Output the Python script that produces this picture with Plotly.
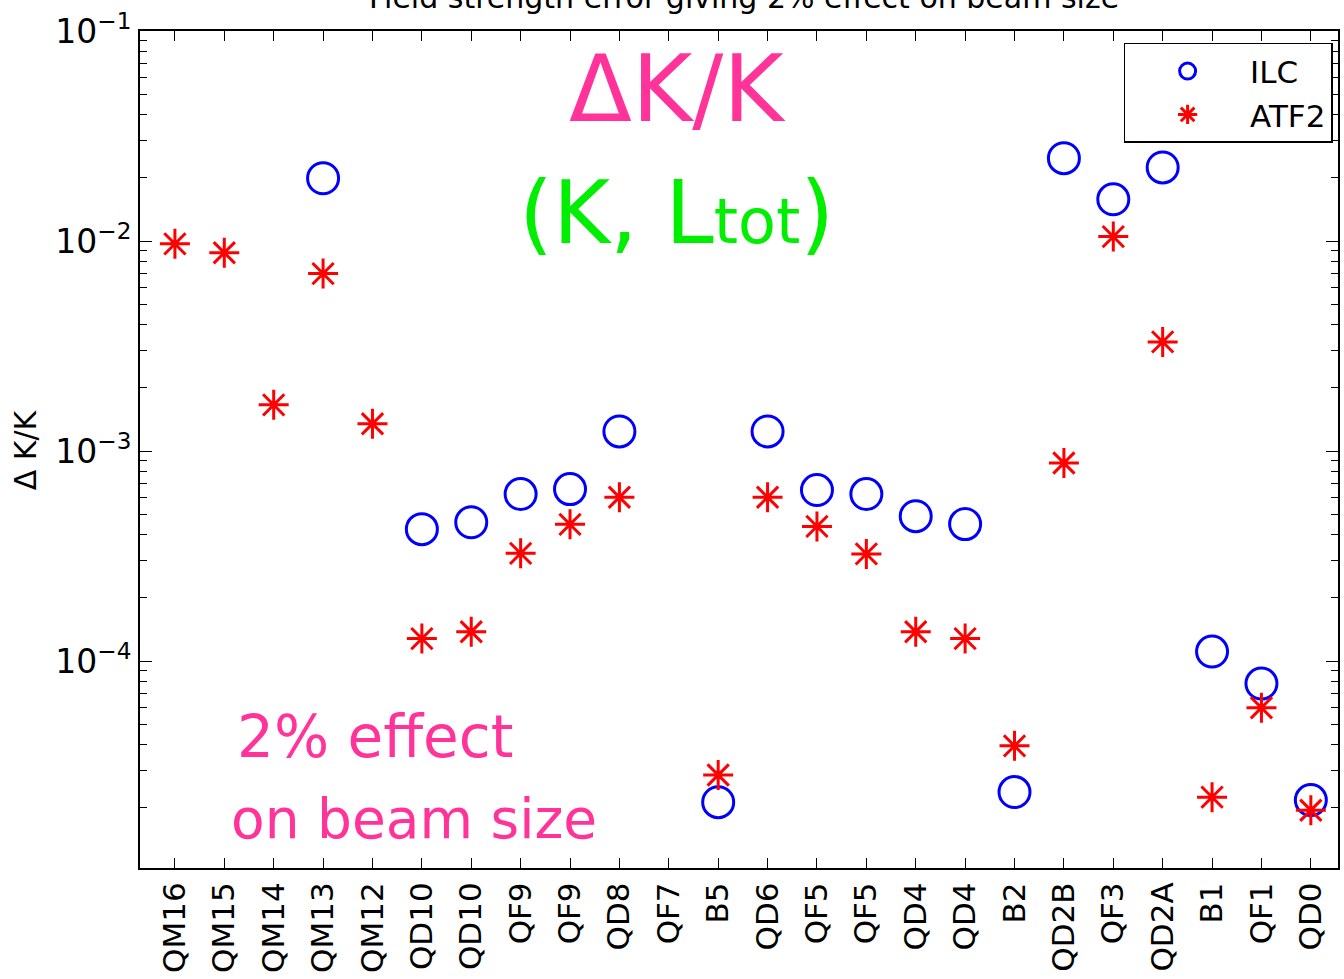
import plotly.graph_objects as go

names = ["QM16", "QM15", "QM14", "QM13", "QM12", "QD10", "QD10", "QF9", "QF9", "QD8",
         "QF7", "B5", "QD6", "QF5", "QF5", "QD4", "QD4", "B2", "QD2B", "QF3", "QD2A",
         "B1", "QF1", "QD0"]
positions = list(range(1, len(names) + 1))

ilc = [None, None, None, 1.99e-2, None, 4.25e-4, 4.58e-4, 6.24e-4, 6.59e-4, 1.24e-3,
       None, 2.13e-5, 1.24e-3, 6.52e-4, 6.24e-4, 4.90e-4, 4.49e-4, 2.38e-5, 2.48e-2,
       1.58e-2, 2.24e-2, 1.11e-4, 7.82e-5, 2.18e-5]
atf2 = [9.7e-3, 8.8e-3, 1.66e-3, 7.0e-3, 1.35e-3, 1.28e-4, 1.38e-4, 3.26e-4, 4.48e-4,
        6.03e-4, None, 2.87e-5, 6.03e-4, 4.38e-4, 3.24e-4, 1.38e-4, 1.28e-4, 3.95e-5,
        8.77e-4, 1.05e-2, 3.31e-3, 2.25e-5, 6.0e-5, 1.95e-5]

ytick_vals = [1e-4, 1e-3, 1e-2, 1e-1]
ytick_text = ["10<sup>\u22124</sup>", "10<sup>\u22123</sup>", "10<sup>\u22122</sup>", "10<sup>\u22121</sup>"]
minor_vals = [m * 10.0 ** e for e in range(-5, -1) for m in range(2, 10)]

FONT = "DejaVu Sans"

fig = go.Figure()
fig.add_trace(go.Scatter(
    x=positions, y=ilc, mode="markers", name="ILC",
    marker=dict(symbol="circle-open", size=31, color="#0000FF", line=dict(width=3, color="#0000FF")),
))
fig.add_trace(go.Scatter(
    x=positions, y=atf2, mode="markers", name="ATF2",
    marker=dict(symbol="asterisk-open", size=25, color="#FF0000", line=dict(width=3, color="#FF0000")),
))

fig.update_layout(
    width=1344, height=979,
    margin=dict(l=140, r=4, t=31, b=111),
    paper_bgcolor="white", plot_bgcolor="white",
    font=dict(family=FONT, size=32, color="black"),
    showlegend=True,
    legend=dict(
        x=0.9955, xanchor="right", y=0.9857, yanchor="top",
        bgcolor="white", bordercolor="black", borderwidth=1.5,
        font=dict(family=FONT, size=31, color="black"),
        itemwidth=115, tracegroupgap=0,
    ),
    xaxis=dict(
        range=[0.293, 24.55],
        tickmode="array", tickvals=positions, ticktext=names,
        tickangle=-90, ticks="inside", ticklen=10, tickwidth=1, tickcolor="black",
        showline=True, linecolor="black", linewidth=2, mirror="ticks",
        showgrid=False, zeroline=False,
        tickfont=dict(family=FONT, size=31, color="black"),
    ),
    yaxis=dict(
        type="log", range=[-4.985, -1],
        tickmode="array", tickvals=ytick_vals, ticktext=ytick_text,
        ticks="inside", ticklen=12, tickwidth=1, tickcolor="black",
        minor=dict(tickmode="array", tickvals=minor_vals, ticks="inside", ticklen=7,
                   tickcolor="black", tickwidth=1, showgrid=False),
        showline=True, linecolor="black", linewidth=2, mirror="ticks",
        showgrid=False, zeroline=False,
        tickfont=dict(family=FONT, size=33, color="black"),
    ),
)

annotations = [
    dict(text="Field strength error giving 2% effect on beam size", x=0.504, y=1.040,
         xref="paper", yref="paper", xanchor="center", yanchor="middle", showarrow=False,
         font=dict(family=FONT, size=30, color="black")),
    dict(text="\u0394 K/K", x=-0.0958, y=0.4994, xref="paper", yref="paper",
         xanchor="center", yanchor="middle", textangle=-90, showarrow=False,
         font=dict(family=FONT, size=30, color="black")),
    dict(text="\u0394K/K", x=0.4483, y=0.9307, xref="paper", yref="paper",
         xanchor="center", yanchor="middle", showarrow=False,
         font=dict(family=FONT, size=92, color="#FF3399")),
    dict(text="(K, L<span style='font-size:62px'>tot</span>)", x=0.448, y=0.7826,
         xref="paper", yref="paper", xanchor="center", yanchor="middle", showarrow=False,
         font=dict(family=FONT, size=87, color="#00EE00")),
    dict(text="2% effect", x=0.1958, y=0.1565, xref="paper", yref="paper",
         xanchor="center", yanchor="middle", showarrow=False,
         font=dict(family=FONT, size=58, color="#FF3399")),
    dict(text="on beam size", x=0.229, y=0.0585, xref="paper", yref="paper",
         xanchor="center", yanchor="middle", showarrow=False,
         font=dict(family=FONT, size=55, color="#FF3399")),
]
fig.update_layout(annotations=annotations)

fig.write_html("out.html")
